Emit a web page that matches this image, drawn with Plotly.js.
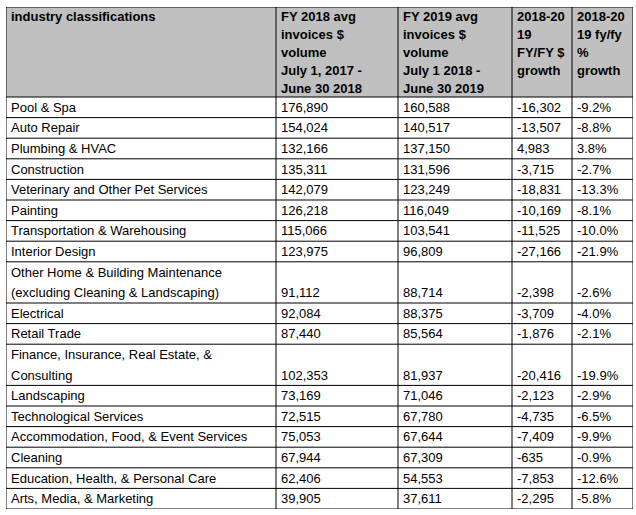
<!DOCTYPE html>
<html>
<head>
<meta charset="utf-8">
<script src="https://cdn.plot.ly/plotly-3.0.1.min.js"></script>
<style>html,body{margin:0;padding:0;background:#fff;}</style>
</head>
<body>
<div id="chart" style="width:636px;height:515px;"></div>
<script>
// ---- data ----
const headers = [
  "industry classifications",
  "FY 2018 avg<br>invoices $<br>volume<br>July 1, 2017 -<br>June 30 2018",
  "FY 2019 avg<br>invoices $<br>volume<br>July 1 2018 -<br>June 30 2019",
  "2018-20<br>19<br>FY/FY $<br>growth",
  "2018-20<br>19 fy/fy<br>%<br>growth"
];
const industries = [
  "Pool & Spa",
  "Auto Repair",
  "Plumbing & HVAC",
  "Construction",
  "Veterinary and Other Pet Services",
  "Painting",
  "Transportation & Warehousing",
  "Interior Design",
  "Other Home & Building Maintenance<br>(excluding Cleaning & Landscaping)",
  "Electrical",
  "Retail Trade",
  "Finance, Insurance, Real Estate, &<br>Consulting",
  "Landscaping",
  "Technological Services",
  "Accommodation, Food, & Event Services",
  "Cleaning",
  "Education, Health, & Personal Care",
  "Arts, Media, & Marketing"
];
const fy2018 = [176890,154024,132166,135311,142079,126218,115066,123975,91112,92084,87440,102353,73169,72515,75053,67944,62406,39905];
const fy2019 = [160588,140517,137150,131596,123249,116049,103541,96809,88714,88375,85564,81937,71046,67780,67644,67309,54553,37611];
const growthUsd = [-16302,-13507,4983,-3715,-18831,-10169,-11525,-27166,-2398,-3709,-1876,-20416,-2123,-4735,-7409,-635,-7853,-2295];
const growthPct = [-9.2,-8.8,3.8,-2.7,-13.3,-8.1,-10.0,-21.9,-2.6,-4.0,-2.1,-19.9,-2.9,-6.5,-9.9,-0.9,-12.6,-5.8];

// ---- style ----
const colWidths = [270, 122, 114, 60, 61];
const headerH = 90, headerLineH = 18.2, headerFirst = 9;
const unitH = 20.6;
const padX = 3;
const FONT = "Liberation Sans, Arial, sans-serif";

const fmt = n => n.toLocaleString("en-US");
const columns = [
  industries,
  fy2018.map(fmt),
  fy2019.map(fmt),
  growthUsd.map(fmt),
  growthPct.map(v => v.toFixed(1) + "%")
];

const colEdges = [0];
colWidths.forEach(w => colEdges.push(colEdges[colEdges.length - 1] + w));
const totalW = colEdges[colEdges.length - 1];

const rowLines = industries.map(s => s.split("<br>").length);
const rowTops = [headerH];
rowLines.forEach(n => rowTops.push(rowTops[rowTops.length - 1] + n * unitH));
const totalH = rowTops[rowTops.length - 1];

const shapes = [];
shapes.push({type: "rect", xref: "x", yref: "y", x0: 0, x1: totalW, y0: 0, y1: headerH,
  fillcolor: "#c0c0c0", line: {width: 0}, layer: "below"});
[0].concat(rowTops).forEach(y => shapes.push({type: "line", xref: "x", yref: "y",
  x0: 0, x1: totalW, y0: y, y1: y, line: {color: "#000", width: 1}}));
colEdges.forEach(x => shapes.push({type: "line", xref: "x", yref: "y",
  x0: x, x1: x, y0: 0, y1: totalH, line: {color: "#000", width: 1}}));

const annotations = [];
headers.forEach((h, c) => {
  h.split("<br>").forEach((line, k) => {
    annotations.push({x: colEdges[c] + padX, y: headerFirst + k * headerLineH, xref: "x", yref: "y",
      text: "<b>" + line + "</b>", showarrow: false, xanchor: "left", yanchor: "middle",
      font: {family: FONT, size: 13, color: "#000"}});
  });
});
columns.forEach((col, c) => {
  col.forEach((val, r) => {
    const lines = String(val).split("<br>");
    const offset = rowLines[r] - lines.length;
    lines.forEach((line, k) => {
      annotations.push({x: colEdges[c] + padX, y: rowTops[r] + (offset + k + 0.5) * unitH,
        xref: "x", yref: "y", text: line, showarrow: false, xanchor: "left", yanchor: "middle",
        font: {family: FONT, size: 13, color: "#000"}});
    });
  });
});

const layout = {
  width: 636, height: 515,
  margin: {l: 6, r: 3, t: 7, b: 6, pad: 0},
  paper_bgcolor: "#fff", plot_bgcolor: "#fff",
  showlegend: false,
  xaxis: {range: [0, totalW], visible: false, fixedrange: true},
  yaxis: {range: [totalH, 0], visible: false, fixedrange: true},
  shapes: shapes,
  annotations: annotations
};
Plotly.newPlot("chart", [], layout, {displayModeBar: false, staticPlot: true});
</script>
</body>
</html>
